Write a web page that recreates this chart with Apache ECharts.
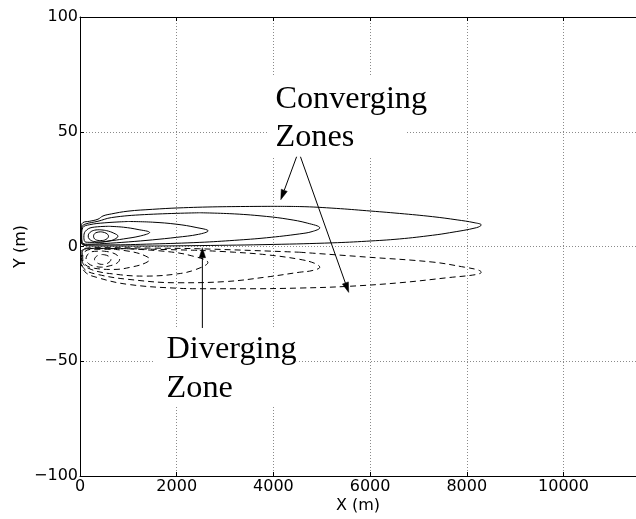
<!DOCTYPE html>
<html>
<head>
<meta charset="utf-8">
<script src="https://cdn.jsdelivr.net/npm/echarts@6/dist/echarts.min.js"></script>
<style>
  html, body { margin: 0; padding: 0; background: #fff; }
  #chart { width: 636px; height: 519px; }
</style>
</head>
<body>
<div id="chart"></div>
<script>
// Axis ranges and ticks (metres)
const xTicks = [0, 2000, 4000, 6000, 8000, 10000];
const yTicks = [-100, -50, 0, 50, 100];
const xMax = 11500;

// Converging-zone contours (solid), [x, y] in metres, each a closed loop
const conv1 = [[430,6.4],[540,5.8],[590,4.5],[540,3.1],[430,2.6],[320,3.0],[280,4.5],[320,5.9],[430,6.4]];
const conv2 = [[400,7.3],[550,6.9],[700,5.8],[785,4.5],[720,3.2],[580,2.3],[420,1.9],[280,2.2],[190,3.3],[170,4.6],[210,6.2],[300,7.1],[400,7.3]];
const conv3 = [[600,8.8],[900,8.4],[1200,7.4],[1440,6.1],[1250,4.6],[900,3.3],[600,2.4],[300,1.8],[120,1.9],[80,4.0],[110,6.6],[250,8.3],[600,8.8]];
const conv4 = [[1000,10.9],[1500,10.6],[2000,9.7],[2400,8.3],[2650,6.8],[2450,5.3],[2000,4.0],[1500,2.9],[1000,2.0],[500,1.3],[150,1.0],[45,1.8],[35,5.0],[60,8.3],[200,9.5],[500,10.3],[1000,10.9]];
const conv5 = [[2479,14.7],[3200,14.2],[3857,13.1],[4300,11.9],[4700,10.2],[4960,8.1],[4800,6.5],[4545,5.5],[3857,3.8],[3200,2.7],[2479,1.8],[1500,1.1],[600,0.7],[150,0.7],[40,1.5],[25,5.0],[40,8.5],[100,9.7],[372,11.0],[650,12.6],[1336,13.9],[2479,14.7]];
const conv6 = [[4000,17.5],[4545,17.4],[5300,16.6],[5923,15.6],[6612,14.4],[7293,13.0],[7800,11.6],[8150,10.4],[8300,9.4],[8200,8.2],[7645,6.0],[7293,4.9],[6612,3.3],[5923,2.3],[5230,1.6],[4000,0.9],[2479,0.4],[1200,0.2],[400,0.2],[100,0.4],[30,1.5],[15,5.0],[25,8.5],[60,10.4],[200,11.0],[372,11.9],[475,13.3],[650,14.2],[992,15.4],[1500,16.2],[2025,16.8],[2851,17.3],[4000,17.5]];

// Diverging-zone contours (dashed)
const div1 = [[470,-3.5],[580,-4.1],[640,-5.6],[580,-7.2],[470,-7.8],[360,-7.2],[300,-5.6],[360,-4.0],[470,-3.5]];
const div2 = [[470,-2.0],[650,-2.6],[780,-4.0],[820,-5.5],[760,-7.3],[600,-8.5],[450,-9.0],[300,-8.6],[180,-7.5],[125,-5.5],[180,-3.0],[300,-2.1],[470,-2.0]];
const div3 = [[700,-1.2],[1100,-2.4],[1350,-4.1],[1440,-5.6],[1350,-7.2],[1100,-8.8],[700,-10.0],[300,-9.5],[100,-7.8],[55,-5.0],[80,-2.6],[250,-1.2],[700,-1.2]];
const div4 = [[1000,-1.0],[1800,-2.2],[2300,-4.0],[2645,-7.0],[2400,-10.0],[2025,-11.9],[1336,-12.9],[785,-12.2],[230,-10.0],[50,-6.5],[45,-2.5],[200,-0.9],[1000,-1.0]];
const div5 = [[2479,-1.7],[3200,-2.5],[3857,-3.6],[4545,-5.6],[4850,-7.3],[4960,-9.0],[4800,-10.5],[4545,-11.2],[3857,-13.3],[3000,-15.3],[2025,-15.8],[992,-14.3],[372,-12.2],[100,-10.0],[30,-6.0],[30,-2.2],[300,-0.8],[1500,-1.2],[2479,-1.7]];
const div6 = [[4545,-2.5],[5923,-4.6],[7300,-6.8],[7950,-9.0],[8230,-10.2],[8300,-11.2],[8200,-12.2],[7645,-13.5],[6612,-15.8],[5510,-17.4],[4545,-18.1],[3500,-18.4],[2479,-18.4],[2025,-18.2],[992,-16.5],[372,-13.6],[100,-11.0],[20,-6.0],[20,-2.0],[300,-0.5],[1500,-0.7],[2479,-1.0],[4545,-2.5]];

const convergingContours = [conv1, conv2, conv3, conv4, conv5, conv6];
const divergingContours = [div1, div2, div3, div4, div5, div6];

// Annotation labels: text lines, text anchor (left, first-line middle) and backing box corners
const noteText = [['Converging', 'Zones'], ['Diverging', 'Zone']];
const noteAnchor = [[4043, 64.0], [1791, -45.2]];
const noteBox = [[3884, 74.3, 6756, 39.0], [1529, -35.5, 4483, -69.1]];
// Arrows: [fromX, fromY, toX, toY]
const arrows = [[4480, 39.1, 4153, 20.4], [4560, 39.1, 5558, -20.0], [2531, -35.5, 2531, -0.5]];

const chart = echarts.init(document.getElementById('chart'), null, { renderer: 'canvas' });

const tickFont = { fontFamily: 'DejaVu Sans', fontSize: 16, color: '#000' };
const gridLine = { show: true, lineStyle: { color: '#8a8a8a', width: 1, type: [1, 2] } };
const minus = v => String(v).replace('-', '\u2212');

const contourSeries = (data, dashed) => ({
  type: 'line',
  data: data,
  smooth: 0.4,
  showSymbol: false,
  symbol: 'none',
  silent: true,
  z: 3,
  lineStyle: { color: '#000', width: 1, type: dashed ? [6, 4] : 'solid' }
});

const option = {
  backgroundColor: '#fff',
  animation: false,
  grid: { left: 80, top: 17, width: 556.6, height: 459, containLabel: false },
  xAxis: [
    {
      type: 'value', position: 'bottom', min: 0, max: xMax, interval: xTicks[1] - xTicks[0],
      name: 'X (m)', nameLocation: 'middle', nameGap: 22, nameMoveOverlap: false,
      nameTextStyle: { fontFamily: 'DejaVu Sans', fontSize: 16, color: '#000' },
      axisLine: { show: true, onZero: false, lineStyle: { color: '#000', width: 1 } },
      axisTick: { show: true, inside: true, length: 4, lineStyle: { color: '#000' } },
      axisLabel: Object.assign({ margin: 3, showMaxLabel: false, formatter: v => xTicks.includes(v) ? minus(v) : '' }, tickFont),
      splitLine: gridLine
    },
    {
      type: 'value', position: 'top', min: 0, max: xMax, interval: xTicks[1] - xTicks[0],
      axisLine: { show: true, onZero: false, lineStyle: { color: '#000', width: 1 } },
      axisTick: { show: true, inside: true, length: 4, lineStyle: { color: '#000' } },
      axisLabel: { show: false },
      splitLine: { show: false }
    }
  ],
  yAxis: {
    type: 'value', min: yTicks[0], max: yTicks[yTicks.length - 1], interval: yTicks[1] - yTicks[0],
    name: 'Y (m)', nameLocation: 'middle', nameGap: 51, nameMoveOverlap: false,
    nameTextStyle: { fontFamily: 'DejaVu Sans', fontSize: 16, color: '#000' },
    axisLine: { show: true, onZero: false, lineStyle: { color: '#000', width: 1 } },
    axisTick: { show: true, inside: true, length: 4, lineStyle: { color: '#000' } },
    axisLabel: Object.assign({ margin: 2, formatter: minus }, tickFont),
    splitLine: gridLine
  },
  series: [
    // white boxes with the zone labels
    {
      type: 'custom',
      coordinateSystem: 'cartesian2d',
      silent: true,
      z: 4,
      data: noteBox.map((b, i) => [b[0], b[1], b[2], b[3], noteAnchor[i][0], noteAnchor[i][1]]),
      encode: { x: [0, 2], y: [1, 3] },
      renderItem(params, api) {
        const a = api.coord([api.value(0), api.value(1)]);
        const b = api.coord([api.value(2), api.value(3)]);
        const t = api.coord([api.value(4), api.value(5)]);
        const lines = noteText[params.dataIndex];
        const children = [{
          type: 'rect',
          shape: { x: a[0], y: a[1], width: b[0] - a[0], height: b[1] - a[1] },
          style: { fill: '#fff' }
        }];
        lines.forEach((s, k) => {
          children.push({
            type: 'text',
            x: t[0], y: t[1] + k * 38.4,
            scaleX: 1.04,
            style: { text: s, x: 0, y: 0, font: '31px "Liberation Serif"', fill: '#000', align: 'left', verticalAlign: 'middle' }
          });
        });
        return { type: 'group', children };
      }
    },
    // annotation arrows
    {
      type: 'custom',
      coordinateSystem: 'cartesian2d',
      silent: true,
      z: 5,
      data: arrows,
      encode: { x: [0, 2], y: [1, 3] },
      renderItem(params, api) {
        const p0 = api.coord([api.value(0), api.value(1)]);
        const p1 = api.coord([api.value(2), api.value(3)]);
        const dx = p1[0] - p0[0], dy = p1[1] - p0[1];
        const L = Math.hypot(dx, dy), ux = dx / L, uy = dy / L;
        const hl = 10, hw = 3.2;
        const bx = p1[0] - ux * hl, by = p1[1] - uy * hl;
        return {
          type: 'group',
          children: [
            { type: 'line', shape: { x1: p0[0], y1: p0[1], x2: bx, y2: by }, style: { stroke: '#000', lineWidth: 1 } },
            { type: 'polygon', shape: { points: [[p1[0], p1[1]], [bx - uy * hw, by + ux * hw], [bx + uy * hw, by - ux * hw]] }, style: { fill: '#000', stroke: '#000', lineWidth: 0.5 } }
          ]
        };
      }
    }
  ]
    .concat(convergingContours.map(d => contourSeries(d, false)))
    .concat(divergingContours.map(d => contourSeries(d, true)))
};

chart.setOption(option);
</script>
</body>
</html>
